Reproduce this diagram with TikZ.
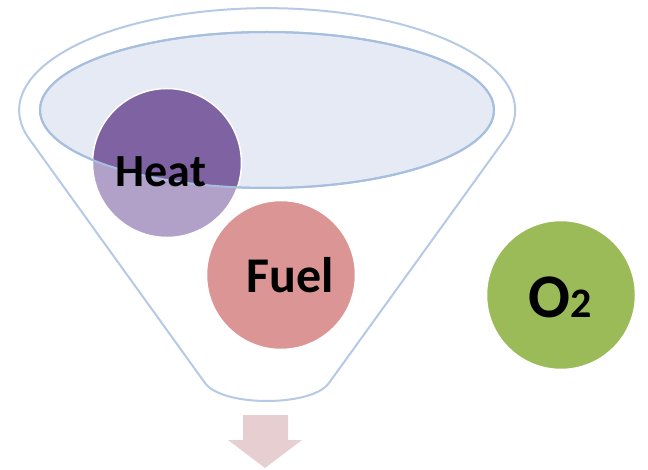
\documentclass[tikz,border=0pt]{standalone}
\usepackage{fontspec}
\setmainfont{Carlito}
\definecolor{funnelline}{HTML}{B6CAE5}
\definecolor{rimline}{HTML}{A7BFDF}
\definecolor{rimfill}{HTML}{E5EAF4}
\definecolor{heatdark}{HTML}{7F62A1}
\definecolor{heatlight}{HTML}{B1A0C8}
\definecolor{fuelred}{HTML}{DA9594}
\definecolor{oxgreen}{HTML}{9BBB59}
\definecolor{spoutpink}{HTML}{E7CED1}
\begin{document}
\begin{tikzpicture}[x=1pt,y=1pt,
                    ball/.style={circle,draw=white,line width=1.5pt,minimum size=149pt,inner sep=0pt},
                    lbl/.style={anchor=base,inner sep=0pt,font=\bfseries}]
  \useasboundingbox (0,0) rectangle (648,469);
  \draw[funnelline,line width=2pt,fill=white]
    (205,86) -- (30,329)
    arc[start angle=197,end angle=-17,x radius=248,y radius=102]
    -- (329,86) .. controls (312,62) and (222,62) .. (205,86) -- cycle;
  \coordinate (mouth) at (267,359);
  \draw[rimline,line width=2pt,fill=rimfill] (mouth) ellipse[x radius=227,y radius=78];
  \fill[spoutpink] (243,54) -- (288,54) -- (288,29) -- (302,29) -- (265,1)
    -- (228,29) -- (243,29) -- cycle;
  \node[ball,fill=fuelred] (fuel) at (281,194) {};
  \node[ball,fill=heatlight] (heat) at (167,306) {};
  \begin{scope}
    \clip (mouth) ellipse[x radius=227,y radius=78];
    \fill[heatdark] (heat.center) circle[radius=73.5];
  \end{scope}
  \draw[rimline,line width=2pt] (mouth) ellipse[x radius=227,y radius=78];
  \node[ball,fill=oxgreen] (oxygen) at (561,174) {};
  \node[lbl,font=\bfseries\fontsize{46}{50}\selectfont] (heattext)
    at ([xshift=-6pt,yshift=-24pt]heat.center) {Heat};
  \node[lbl,font=\bfseries\fontsize{50}{54}\selectfont] (fueltext)
    at ([xshift=9pt,yshift=-18pt]fuel.center) {Fuel};
  \node[lbl] (oxtext) at ([xshift=-1pt,yshift=-23pt]oxygen.center)
    {\fontsize{62}{66}\selectfont O\fontsize{42}{46}\selectfont 2};
\end{tikzpicture}
\end{document}
